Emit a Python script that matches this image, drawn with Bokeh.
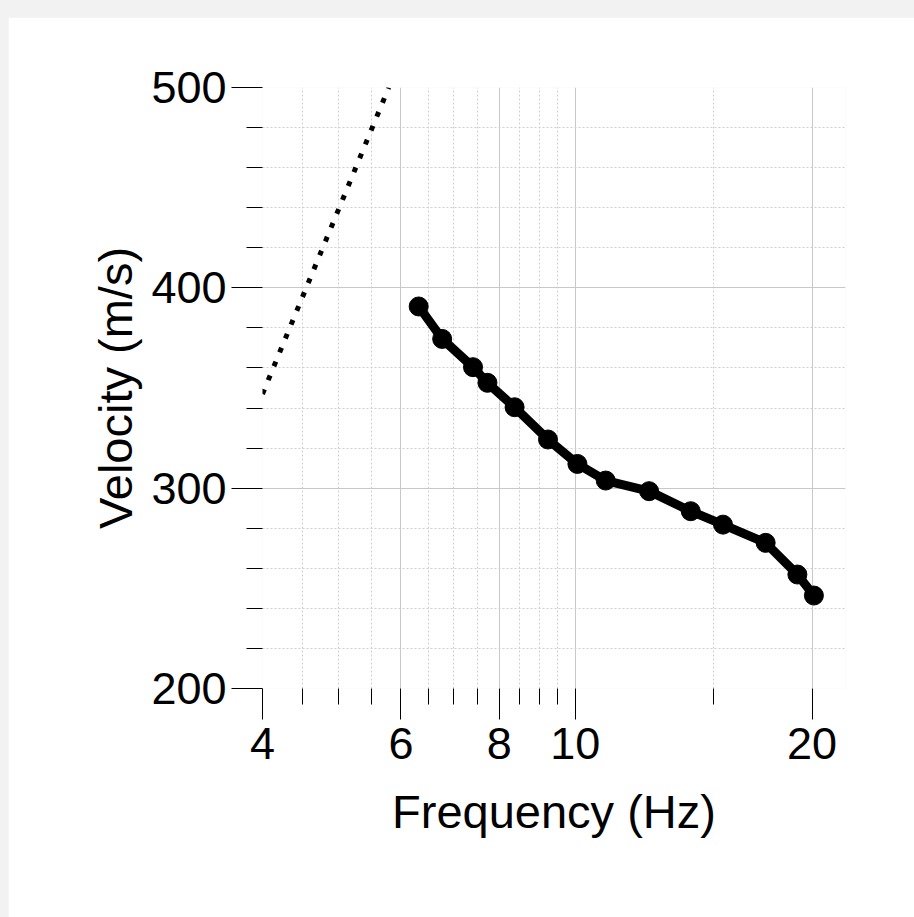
from bokeh.plotting import figure
from bokeh.models import FixedTicker, BasicTickFormatter, Range1d, Column
from bokeh.embed import file_html
from bokeh.resources import INLINE

# Data
freq = [6.32, 6.77, 7.41, 7.73, 8.37, 9.23, 10.06, 10.93, 12.41, 14.02, 15.41, 17.46, 19.16, 20.11]
velocity = [390.7, 374.5, 360.4, 352.6, 340.4, 324.3, 312.1, 303.8, 298.5, 288.5, 281.8, 272.7, 256.9, 246.4]

limit_freq = [4.0, 5.79]
limit_velocity = [347, 500]

x_major_ticks = [4, 6, 8, 10, 20]
x_minor_ticks = [4.5, 5, 5.5, 6.5, 7, 7.5, 8.5, 9, 9.5, 15]
y_major_ticks = [200, 300, 400, 500]
y_minor_ticks = [220, 240, 260, 280, 320, 340, 360, 380, 420, 440, 460, 480]

x_label = "Frequency (Hz)"
y_label = "Velocity (m/s)"

p = figure(
    x_axis_type="log",
    x_range=Range1d(4, 22.06),
    y_range=Range1d(200, 500),
    frame_width=583,
    frame_height=601,
    min_border_left=254,
    min_border_top=70,
    min_border_right=69,
    min_border_bottom=229,
    output_backend="svg",
    toolbar_location=None,
    background_fill_color="white",
    border_fill_color="white",
)
p.outline_line_color = None
p.margin = (17, 0, 0, 8)

# axes
p.xaxis.ticker = FixedTicker(ticks=x_major_ticks, minor_ticks=x_minor_ticks)
p.xaxis.formatter = BasicTickFormatter()
p.yaxis.ticker = FixedTicker(ticks=y_major_ticks, minor_ticks=y_minor_ticks)

for ax in (p.xaxis, p.yaxis):
    ax.axis_line_color = None
    ax.major_tick_line_color = "black"
    ax.minor_tick_line_color = "black"
    ax.major_tick_line_width = 1
    ax.minor_tick_line_width = 1
    ax.major_tick_in = 0
    ax.major_tick_out = 31
    ax.minor_tick_in = 0
    ax.minor_tick_out = 16
    ax.major_label_text_font = "Liberation Sans"
    ax.major_label_text_font_size = "45px"
    ax.major_label_text_color = "black"
    ax.axis_label_text_font = "Liberation Sans"
    ax.axis_label_text_font_size = "47px"
    ax.axis_label_text_font_style = "normal"
    ax.axis_label_text_color = "black"

p.xaxis.axis_label = x_label
p.yaxis.axis_label = y_label
p.xaxis.major_label_standoff = 8
p.yaxis.major_label_standoff = 5
p.xaxis.axis_label_standoff = 23
p.yaxis.axis_label_standoff = 6

# grids
for g in (p.xgrid, p.ygrid):
    g.grid_line_color = "#c8c8c8"
    g.grid_line_width = 1
    g.minor_grid_line_color = "#cfcfcf"
    g.minor_grid_line_dash = "2 2"
    g.minor_grid_line_width = 1

# dotted limit line
p.line(limit_freq, limit_velocity, line_color="black", line_width=5,
       line_dash="5 10", line_cap="butt")

# dispersion curve
p.line(freq, velocity, line_color="black", line_width=9, line_join="round")
p.scatter(freq, velocity, size=19, fill_color="black", line_color="black")

layout = Column(children=[p], styles={"background-color": "#f2f2f2"})

open("out.html", "w").write(file_html(layout, INLINE))
